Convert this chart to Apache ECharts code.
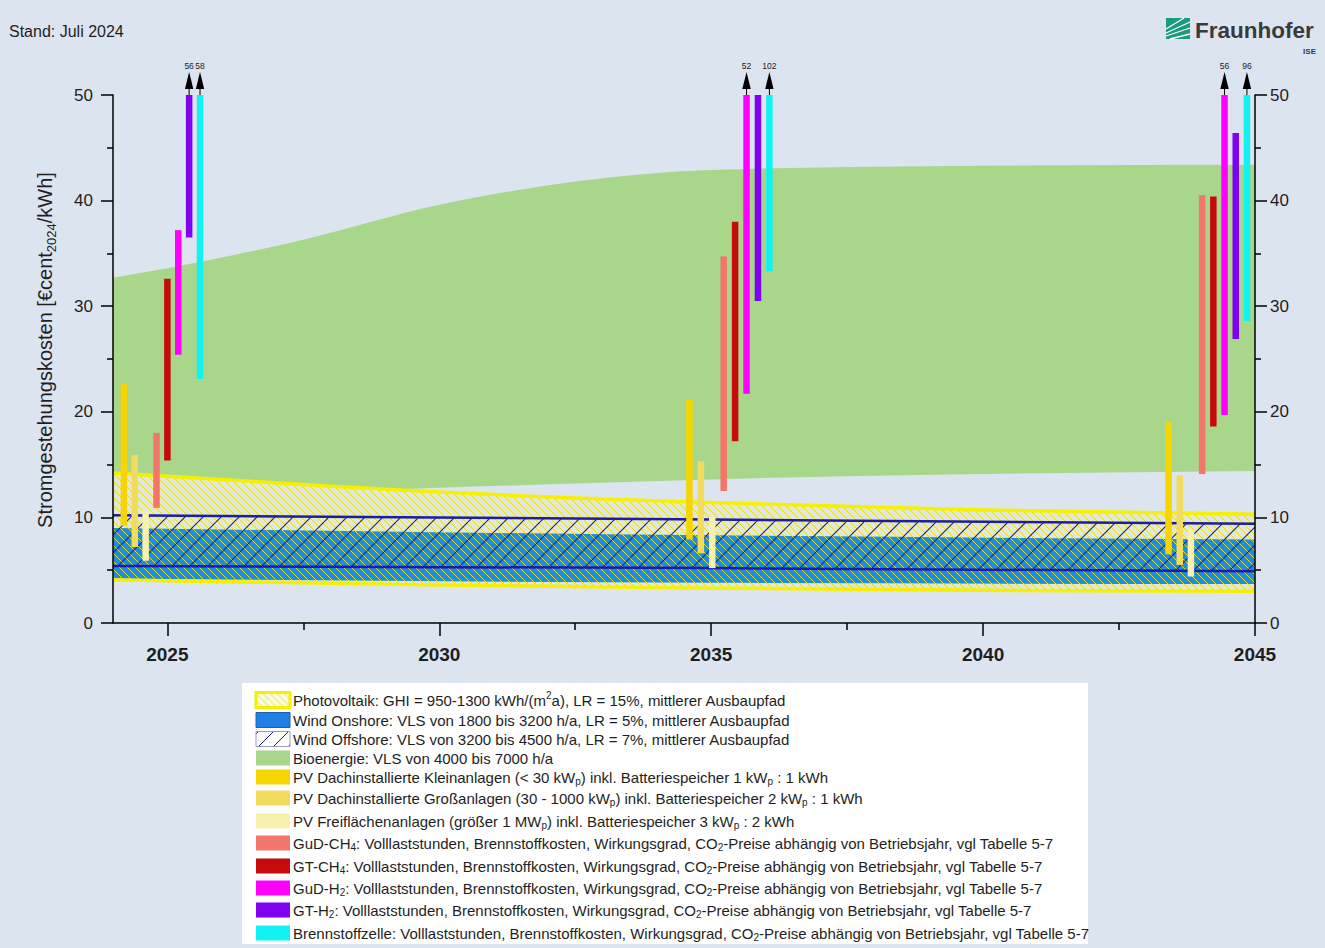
<!DOCTYPE html>
<html><head><meta charset="utf-8">
<script src="https://cdn.jsdelivr.net/npm/echarts@6/dist/echarts.min.js"></script>
<style>html,body{margin:0;padding:0;background:#dce5ef}#c{width:1325px;height:948px}</style>
</head><body><div id="c"></div>
<script>
// ---------------- data ----------------
const xTicks = [2025, 2030, 2035, 2040, 2045];
const xMinorTicks = [2027.5, 2032.5, 2037.5, 2042.5];

const bioYears = [2024, 2025, 2027.5, 2030, 2032.5, 2035, 2040, 2045];
const bioLo = [11.5, 11.8, 12.3, 12.8, 13.2, 13.6, 14.1, 14.4];
const bioHi = [32.7, 33.6, 36.3, 39.6, 41.8, 42.9, 43.3, 43.4];

const pvYears = [2024, 2025, 2030, 2035, 2040, 2045];
const pvLo = [4.1, 4.0, 3.6, 3.3, 3.1, 3.0];
const pvHi = [14.2, 13.9, 12.4, 11.4, 10.7, 10.3];

const onYears = [2024, 2035, 2045];
const onLo = [4.2, 3.8, 3.7];
const onHi = [9.0, 8.3, 7.9];

const offYears = [2024, 2035, 2045];
const offLo = [5.4, 5.2, 4.9];
const offHi = [10.2, 9.8, 9.4];

// range bars: one value per group (2025-, 2035-, 2045-group)
const groupStart = [2024.2, 2034.6, 2043.41];
const groupStep = [0.2, 0.21, 0.206];
const techNames = ['PV Klein', 'PV Groß', 'PV Frei', 'GuD-CH4', 'GT-CH4', 'GuD-H2', 'GT-H2', 'Brennstoffzelle'];
const pvKleinLo = [9.2, 7.9, 6.5],  pvKleinHi = [22.6, 21.2, 19.0];
const pvGrossLo = [7.2, 6.6, 5.5],  pvGrossHi = [15.9, 15.3, 14.0];
const pvFreiLo  = [5.9, 5.2, 4.4],  pvFreiHi  = [10.6, 10.0, 8.8];
const gudCh4Lo  = [10.9, 12.5, 14.1], gudCh4Hi = [18.0, 34.7, 40.5];
const gtCh4Lo   = [15.4, 17.2, 18.6], gtCh4Hi  = [32.6, 38.0, 40.4];
const gudH2Lo   = [25.4, 21.7, 19.7], gudH2Hi  = [37.2, 52, 56];
const gtH2Lo    = [36.5, 30.5, 26.9], gtH2Hi   = [56, 50, 46.4];
const bzLo      = [23.1, 33.3, 28.6], bzHi     = [58, 102, 96];

const legendLabels = [
  'Photovoltaik: GHI = 950-1300 kWh/(m^{2}a), LR = 15%, mittlerer Ausbaupfad',
  'Wind Onshore: VLS von 1800 bis 3200 h/a, LR = 5%, mittlerer Ausbaupfad',
  'Wind Offshore: VLS von 3200 bis 4500 h/a, LR = 7%, mittlerer Ausbaupfad',
  'Bioenergie: VLS von 4000 bis 7000 h/a',
  'PV Dachinstallierte Kleinanlagen (< 30 kW_{p}) inkl. Batteriespeicher 1 kW_{p} : 1 kWh',
  'PV Dachinstallierte Großanlagen (30 - 1000 kW_{p}) inkl. Batteriespeicher 2 kW_{p} : 1 kWh',
  'PV Freiflächenanlagen (größer 1 MW_{p}) inkl. Batteriespeicher 3 kW_{p} : 2 kWh',
  'GuD-CH_{4}: Volllaststunden, Brennstoffkosten, Wirkungsgrad, CO_{2}-Preise abhängig von Betriebsjahr, vgl Tabelle 5-7',
  'GT-CH_{4}: Volllaststunden, Brennstoffkosten, Wirkungsgrad, CO_{2}-Preise abhängig von Betriebsjahr, vgl Tabelle 5-7',
  'GuD-H_{2}: Volllaststunden, Brennstoffkosten, Wirkungsgrad, CO_{2}-Preise abhängig von Betriebsjahr, vgl Tabelle 5-7',
  'GT-H_{2}: Volllaststunden, Brennstoffkosten, Wirkungsgrad, CO_{2}-Preise abhängig von Betriebsjahr, vgl Tabelle 5-7',
  'Brennstoffzelle: Volllaststunden, Brennstoffkosten, Wirkungsgrad, CO_{2}-Preise abhängig von Betriebsjahr, vgl Tabelle 5-7'
];

// ---------------- styles ----------------
const FONT = '"Liberation Sans", Arial, sans-serif';
const C = {
  bg: '#dce5ef', pvFill: '#e1e5e3',
  bio: '#a8d78c', on: '#1b8bec', navy: '#1c1ca6', pvLine: '#f4f000', pvHatch: '#e6e200',
  techs: ['#f6d500', '#f1dc5e', '#f6f1ae', '#f2766a', '#c70b0b', '#ff00ff', '#8000f0', '#12f2f2']
};

function hatch(size, color, width, dir, bg) {
  const c = document.createElement('canvas');
  c.width = size; c.height = size;
  const g = c.getContext('2d');
  if (bg) { g.fillStyle = bg; g.fillRect(0, 0, size, size); }
  g.strokeStyle = color; g.lineWidth = width;
  g.beginPath();
  for (const k of [-size, 0, size]) {
    if (dir === 'back') { g.moveTo(k, 0); g.lineTo(k + size, size); }
    else { g.moveTo(k, size); g.lineTo(k + size, 0); }
  }
  g.stroke();
  return { image: c, repeat: 'repeat' };
}

const pvPattern = hatch(8, C.pvHatch, 1.0, 'back', null);
const offPattern = hatch(18, C.navy, 1.1, 'fwd', null);

// monotone cubic segments through pixel points (x increasing)
function monoSegs(pts) {
  const n = pts.length, h = [], s = [], t = [];
  for (let i = 0; i < n - 1; i++) { h[i] = pts[i + 1][0] - pts[i][0]; s[i] = (pts[i + 1][1] - pts[i][1]) / h[i]; }
  if (n === 2) { t[0] = t[1] = s[0]; }
  else {
    for (let i = 1; i < n - 1; i++) {
      const p = (s[i - 1] * h[i] + s[i] * h[i - 1]) / (h[i - 1] + h[i]);
      t[i] = (Math.sign(s[i - 1]) + Math.sign(s[i])) * Math.min(Math.abs(s[i - 1]), Math.abs(s[i]), 0.5 * Math.abs(p)) || 0;
    }
    t[0] = (3 * s[0] - t[1]) / 2; t[n - 1] = (3 * s[n - 2] - t[n - 2]) / 2;
  }
  const segs = [];
  for (let i = 0; i < n - 1; i++) {
    const a = pts[i], b = pts[i + 1], d = h[i] / 3;
    segs.push([a, [a[0] + d, a[1] + t[i] * d], [b[0] - d, b[1] - t[i + 1] * d], b]);
  }
  return segs;
}
function segPath(segs, start) {
  let d = start + segs[0][0][0] + ',' + segs[0][0][1];
  for (const g of segs) d += 'C' + g[1][0] + ',' + g[1][1] + ' ' + g[2][0] + ',' + g[2][1] + ' ' + g[3][0] + ',' + g[3][1];
  return d;
}
function revSegs(segs) { return segs.slice().reverse().map(g => [g[3], g[2], g[1], g[0]]); }

function band(name, years, lo, hi, fill, z, line) {
  return {
    type: 'custom', name, z, silent: true, clip: true,
    encode: { x: 0, y: [1, 2] },
    data: years.map((x, i) => [x, lo[i], hi[i]]),
    renderItem: (params, api) => {
      if (params.dataIndexInside !== 0) return null;
      const n = params.dataInsideLength, top = [], bot = [];
      for (let j = 0; j < n; j++) {
        const x = api.value(0, j);
        top.push(api.coord([x, api.value(2, j)]));
        bot.push(api.coord([x, api.value(1, j)]));
      }
      const ts = monoSegs(top), bs = monoSegs(bot);
      const ch = [];
      if (fill) ch.push({ type: 'path', shape: { pathData: segPath(ts, 'M') + segPath(revSegs(bs), 'L') + 'Z' }, style: { fill, stroke: null } });
      if (line) {
        ch.push({ type: 'path', shape: { pathData: segPath(bs, 'M') }, style: { fill: null, stroke: line.color, lineWidth: line.width } });
        ch.push({ type: 'path', shape: { pathData: segPath(ts, 'M') }, style: { fill: null, stroke: line.color, lineWidth: line.width } });
      }
      return { type: 'group', children: ch };
    }
  };
}

const techLo = [pvKleinLo, pvGrossLo, pvFreiLo, gudCh4Lo, gtCh4Lo, gudH2Lo, gtH2Lo, bzLo];
const techHi = [pvKleinHi, pvGrossHi, pvFreiHi, gudCh4Hi, gtCh4Hi, gudH2Hi, gtH2Hi, bzHi];
const Y_MAX = 50;

function barSeries(t) {
  const color = C.techs[t];
  return {
    type: 'custom', name: techNames[t], z: 9, silent: true, clip: false,
    encode: { x: 0, y: [1, 2] },
    data: techLo[t].map((v, g) => [groupStart[g] + t * groupStep[g], v, techHi[t][g]]),
    renderItem: (params, api) => {
      const x = api.value(0), lo = api.value(1), hi = api.value(2);
      const top = Math.min(hi, Y_MAX);
      const p0 = api.coord([x, lo]), p1 = api.coord([x, top]);
      const w = 6.5;
      const ch = [{ type: 'rect', shape: { x: p0[0] - w / 2, y: p1[1], width: w, height: p0[1] - p1[1] },
                    style: { fill: color } }];
      if (hi > Y_MAX) {
        const cx = p1[0], ty = p1[1];
        ch.push({ type: 'line', shape: { x1: cx, y1: ty, x2: cx, y2: ty - 8 }, style: { stroke: '#000', lineWidth: 1 } });
        ch.push({ type: 'polygon', shape: { points: [[cx, ty - 23], [cx - 4.2, ty - 6], [cx + 4.2, ty - 6]] }, style: { fill: '#000' } });
        ch.push({ type: 'text', style: { text: String(hi), x: cx, y: ty - 29, align: 'center', verticalAlign: 'middle',
                  fontSize: 8.5, fontFamily: FONT, fill: '#222' } });
      }
      return { type: 'group', children: ch };
    }
  };
}

// ---------------- rich text helper ----------------
function toRich(s) {
  return s.replace(/([^_^]+)|_\{([^}]*)\}|\^\{([^}]*)\}/g,
    (m, a, b, c) => a !== undefined ? '{n|' + a + '}' : b !== undefined ? '{sb|' + b + '}' : '{sp|' + c + '}');
}
function richStyles(fs, lh) {
  return {
    n: { fontSize: fs, fontFamily: FONT, fill: '#1e1e1e', lineHeight: lh, verticalAlign: 'middle' },
    sb: { fontSize: Math.round(fs * 0.66), fontFamily: FONT, fill: '#1e1e1e', lineHeight: Math.round(fs * 0.72), verticalAlign: 'bottom' },
    sp: { fontSize: Math.round(fs * 0.66), fontFamily: FONT, fill: '#1e1e1e', lineHeight: Math.round(fs * 0.72), verticalAlign: 'top' }
  };
}

// ---------------- legend (graphic) ----------------
const legRowY = [700, 720, 739, 758, 777, 798, 821, 843, 866, 888, 910, 933];
const legendEls = [{ type: 'rect', shape: { x: 242, y: 683, width: 846, height: 261 }, style: { fill: '#ffffff' } }];
const swX = 256, swW = 34, swH = 15;
legendLabels.forEach((lab, i) => {
  const y = legRowY[i];
  let sw;
  if (i === 0) {
    sw = { type: 'rect', shape: { x: swX, y: y - swH / 2, width: swW, height: swH },
           style: { fill: hatch(7, '#ffffff', 1.6, 'back', '#f6f2b0'), stroke: C.pvLine, lineWidth: 3 } };
  } else if (i === 1) {
    sw = { type: 'rect', shape: { x: swX, y: y - swH / 2, width: swW, height: swH }, style: { fill: '#1f7fe2', stroke: '#1f5fb0', lineWidth: 1 } };
  } else if (i === 2) {
    sw = { type: 'rect', shape: { x: swX, y: y - swH / 2, width: swW, height: swH },
           style: { fill: hatch(15, C.navy, 1, 'fwd', '#ffffff'), stroke: '#9a9ab8', lineWidth: 1 } };
  } else if (i === 3) {
    sw = { type: 'rect', shape: { x: swX, y: y - swH / 2, width: swW, height: swH }, style: { fill: C.bio } };
  } else {
    sw = { type: 'rect', shape: { x: swX, y: y - swH / 2, width: swW, height: swH }, style: { fill: C.techs[i - 4] } };
  }
  legendEls.push(sw);
  legendEls.push({ type: 'text', style: { text: toRich(lab), x: 293, y: y, verticalAlign: 'middle', rich: richStyles(15, 19) } });
});

// logo
const logoEls = [
  { type: 'rect', shape: { x: 1166, y: 18, width: 24, height: 21 }, style: { fill: '#179c7d' } },
  { type: 'line', shape: { x1: 1166, y1: 33, x2: 1190, y2: 22 }, style: { stroke: '#fff', lineWidth: 1.3 } },
  { type: 'line', shape: { x1: 1166, y1: 36, x2: 1190, y2: 28 }, style: { stroke: '#fff', lineWidth: 1.3 } },
  { type: 'line', shape: { x1: 1170, y1: 39, x2: 1190, y2: 34 }, style: { stroke: '#fff', lineWidth: 1.3 } },
  { type: 'line', shape: { x1: 1166, y1: 29, x2: 1184, y2: 18 }, style: { stroke: '#fff', lineWidth: 1.3 } },
  { type: 'text', style: { text: 'Fraunhofer', x: 1195, y: 30, verticalAlign: 'middle', fontSize: 22.5, fontWeight: 'bold', fontFamily: FONT, fill: '#3a3a3a' } },
  { type: 'text', style: { text: 'ISE', x: 1316, y: 51, align: 'right', verticalAlign: 'middle', fontSize: 8, fontWeight: 'bold', fontFamily: FONT, fill: '#3a3a3a' } }
];

const titleEls = [
  { type: 'text', style: { text: 'Stand: Juli 2024', x: 9, y: 31, verticalAlign: 'middle', fontSize: 16, fontFamily: FONT, fill: '#1e1e1e' } },
  { type: 'text', x: 45, y: 350, rotation: Math.PI / 2,
    style: { text: toRich('Stromgestehungskosten [€cent_{2024}/kWh]'), align: 'center', verticalAlign: 'middle', rich: richStyles(20, 26) } }
];

// ---------------- chart ----------------
const axisLineStyle = { color: '#000', width: 1.5 };
const yAxisBase = {
  type: 'value', min: 0, max: Y_MAX, interval: 10, z: 10,
  axisLine: { show: true, onZero: false, lineStyle: axisLineStyle },
  axisTick: { show: true, length: 12, lineStyle: axisLineStyle },
  minorTick: { show: true, splitNumber: 2, length: 6, lineStyle: axisLineStyle },
  splitLine: { show: false }, minorSplitLine: { show: false }
};

const chart = echarts.init(document.getElementById('c'), null, { renderer: 'svg', width: 1325, height: 948 });
chart.setOption({
  backgroundColor: C.bg,
  animation: false,
  grid: { left: 113, right: 70, top: 95, bottom: 325 },
  xAxis: [
    { type: 'value', min: 2024, max: 2045, z: 10,
      axisLine: { show: true, onZero: false, lineStyle: axisLineStyle },
      axisTick: { show: true, customValues: xTicks, length: 13, lineStyle: axisLineStyle },
      axisLabel: { customValues: xTicks, formatter: v => String(v), fontSize: 19, fontWeight: 'bold', color: '#1e1e1e', fontFamily: FONT, margin: 22 },
      splitLine: { show: false } },
    { type: 'value', min: 2024, max: 2045, position: 'bottom', z: 10,
      axisLine: { show: false },
      axisTick: { show: true, customValues: xMinorTicks, length: 7, lineStyle: axisLineStyle },
      axisLabel: { show: false }, splitLine: { show: false } }
  ],
  yAxis: [
    Object.assign({}, yAxisBase, { position: 'left',
      axisLabel: { fontSize: 17, color: '#1e1e1e', fontFamily: FONT, margin: 20 } }),
    Object.assign({}, yAxisBase, { position: 'right',
      axisLabel: { fontSize: 17, color: '#1e1e1e', fontFamily: FONT, margin: 15 } })
  ],
  series: [
    band('Bioenergie', bioYears, bioLo, bioHi, C.bio, 1),
    band('Photovoltaik Fläche', pvYears, pvLo, pvHi, C.pvFill, 2),
    band('Wind Onshore', onYears, onLo, onHi, C.on, 3),
    band('Photovoltaik', pvYears, pvLo, pvHi, pvPattern, 4),
    band('Wind Offshore', offYears, offLo, offHi, offPattern, 5, { color: C.navy, width: 2.5 }),
    band('Photovoltaik Rand', pvYears, pvLo, pvHi, null, 6, { color: C.pvLine, width: 3.5 }),
    ...techNames.map((n, t) => barSeries(t))
  ],
  graphic: [...legendEls, ...logoEls, ...titleEls]
});
</script>
</body></html>
